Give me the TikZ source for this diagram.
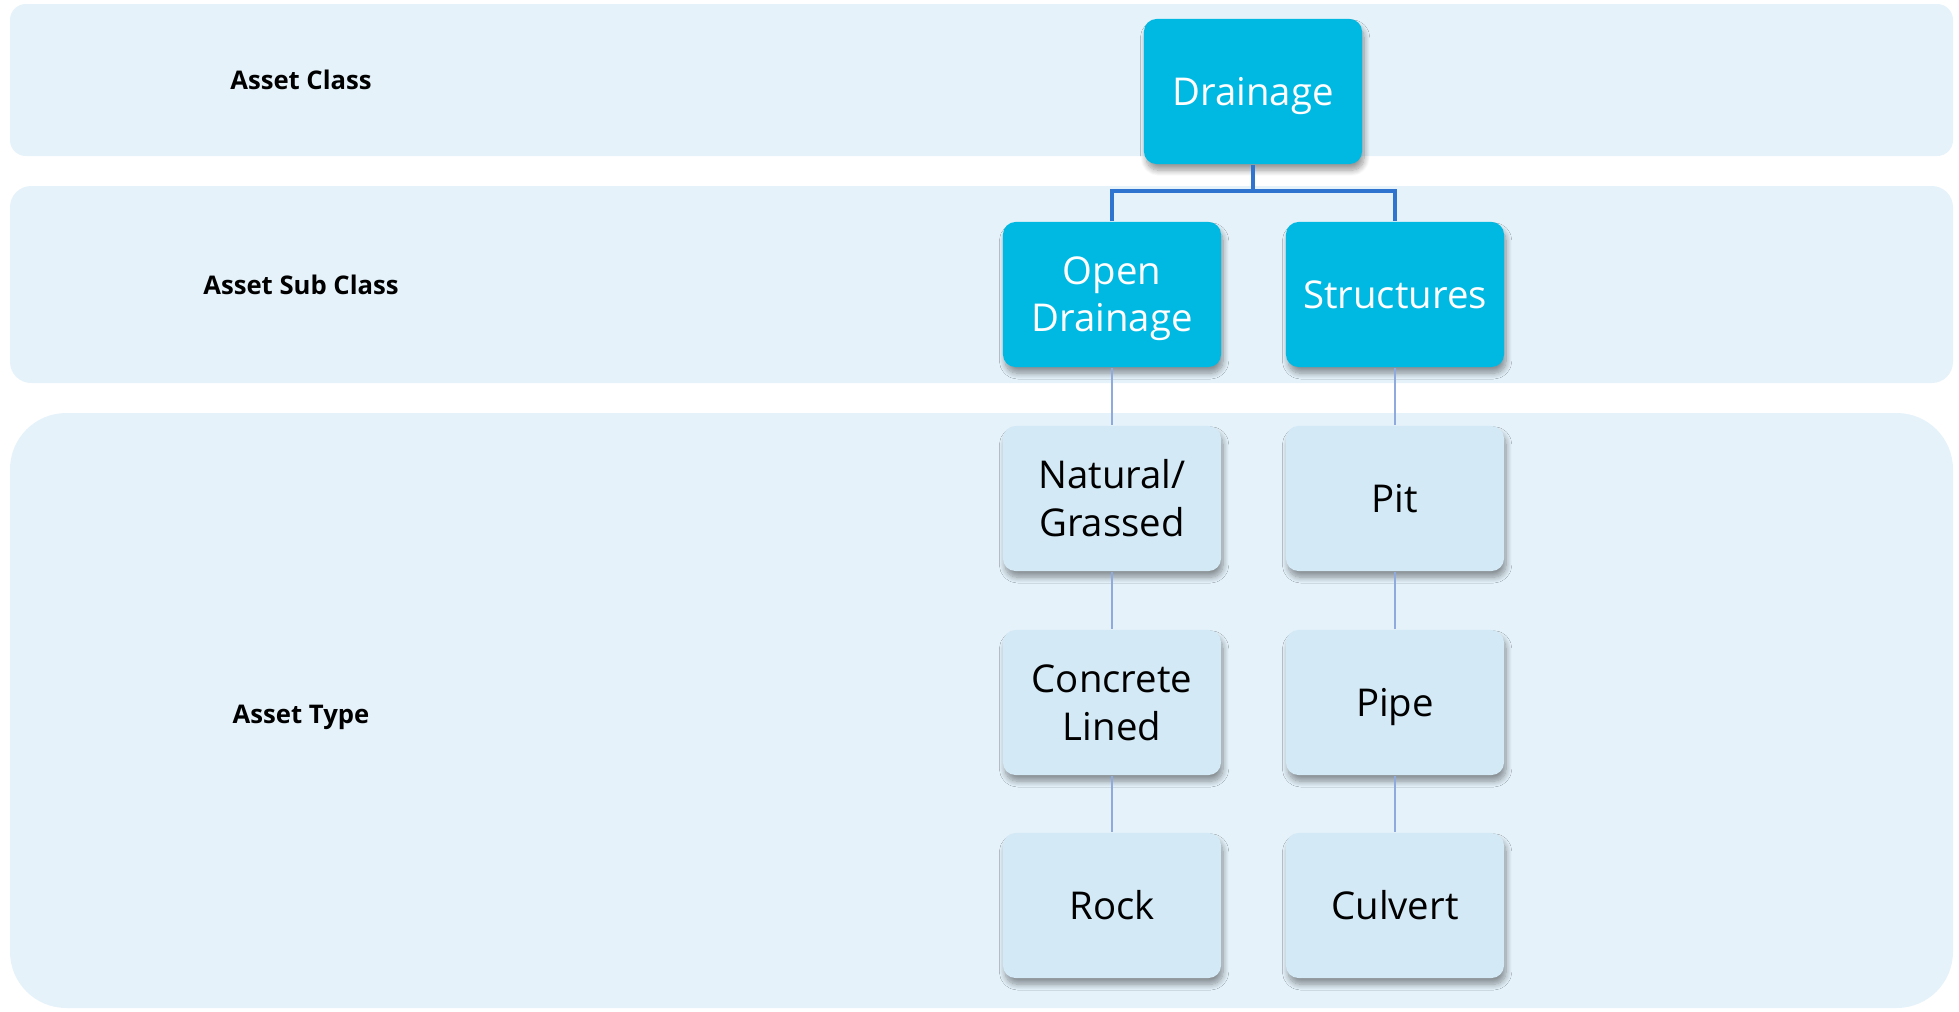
\documentclass[tikz,border=0pt]{standalone}
\usepackage{fontspec}
\setmainfont{Open Sans}
\usetikzlibrary{shadows.blur}

\definecolor{bandfill}{HTML}{E5F2FA}
\definecolor{classfill}{HTML}{00B9E3}
\definecolor{typefill}{HTML}{D3E9F5}
\definecolor{mainlink}{HTML}{2F74CE}
\definecolor{sublink}{HTML}{8FAADC}

\begin{document}
\begin{tikzpicture}[x=0.01cm, y=-0.01cm,
  band/.style={fill=bandfill, draw=none},
  rowlabel/.style={font=\fontsize{7.3}{9}\selectfont\bfseries, text=black},
  box/.style={rounded corners=3.6pt, minimum width=2.18cm, minimum height=1.45cm,
    align=center, inner sep=2pt, text depth=0pt, text height=7.8pt,
    blur shadow={shadow xshift=0.6pt, shadow yshift=-1.8pt,
      shadow blur radius=1.6pt, shadow blur steps=10, shadow opacity=40}},
  classbox/.style={box, fill=classfill, text=white,
    font=\fontsize{10.9}{13.4}\selectfont},
  typebox/.style={box, fill=typefill, text=black,
    font=\fontsize{10.9}{13.6}\selectfont},
  twoclass/.style={classbox, text height=21.2pt},
  twotype/.style={typebox, text height=21.4pt},
  mainline/.style={draw=mainlink, line width=0.95pt},
  subline/.style={draw=sublink, line width=0.75pt}]

  \useasboundingbox (0,0) rectangle (1959,1011);

  % horizontal bands
  \fill[band, rounded corners=4.5pt] (10,4) rectangle (1953,156);
  \fill[band, rounded corners=6pt] (10,186) rectangle (1953,383);
  \fill[band, rounded corners=16pt] (10,413) rectangle (1953,1008);

  % row labels
  \node[rowlabel] (lclass) at (301,80) {Asset Class};
  \node[rowlabel] (lsub) at (301,285) {Asset Sub Class};
  \node[rowlabel] (ltype) at (301,717) {Asset Type};

  % hierarchy boxes
  \node[classbox] (drain) at (1253,91.5) {Drainage};
  \node[twoclass] (open) at (1112,294.5) {Open\\Drainage};
  \node[classbox] (struct) at (1395,294.5) {Structures};

  \node[twotype] (nat) at (1112,498.5) {Natural/\\Grassed};
  \node[twotype] (conc) at (1112,702.5) {Concrete\\Lined};
  \node[typebox] (rock) at (1112,905.5) {Rock};
  \node[typebox] (pit) at (1395,498.5) {Pit};
  \node[typebox] (pipe) at (1395,702.5) {Pipe};
  \node[typebox] (culv) at (1395,905.5) {Culvert};

  % connectors
  \coordinate (split) at (1253,191);
  \draw[mainline] (drain.south) -- (split);
  \draw[mainline] (open.north) |- (split) -| (struct.north);

  \draw[subline] (open.south) -- (nat.north);
  \draw[subline] (nat.south) -- (conc.north);
  \draw[subline] (conc.south) -- (rock.north);
  \draw[subline] (struct.south) -- (pit.north);
  \draw[subline] (pit.south) -- (pipe.north);
  \draw[subline] (pipe.south) -- (culv.north);
\end{tikzpicture}
\end{document}
